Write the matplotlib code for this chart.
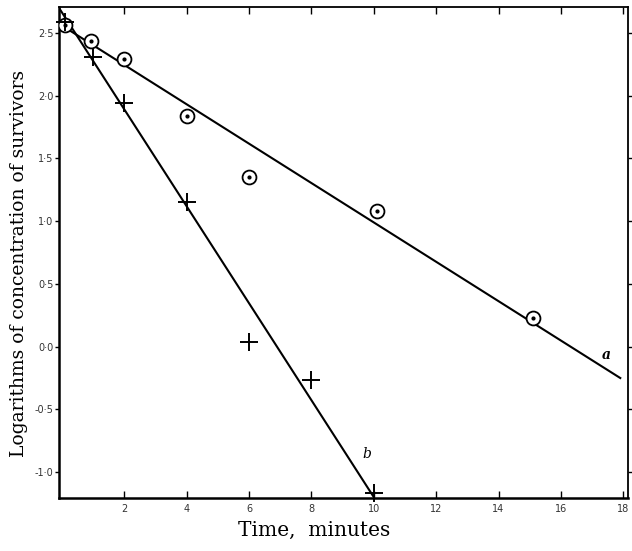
import matplotlib
matplotlib.use("Agg")
import matplotlib.pyplot as plt

# Survivor counts (log10 concentration) against exposure time
time_a = [0.1, 0.95, 2.0, 4.0, 6.0, 10.1, 15.1]
logc_a = [2.56, 2.44, 2.29, 1.84, 1.355, 1.08, 0.23]

time_b = [0.1, 1.0, 2.0, 4.0, 6.0, 8.0, 10.0]
logc_b = [2.59, 2.31, 1.94, 1.15, 0.04, -0.27, -1.17]

# Fitted straight lines
fit_a_x = [0.0, 17.93]
fit_a_y = [2.56, -0.255]
fit_b_x = [-0.09, 10.0]
fit_b_y = [2.70, -1.20]

x_ticks = [2, 4, 6, 8, 10, 12, 14, 16, 18]
x_tick_labels = ["2", "4", "6", "8", "10", "12", "14", "16", "18"]
y_ticks = [2.5, 2.0, 1.5, 1.0, 0.5, 0.0, -0.5, -1.0]
y_tick_labels = ["2·5", "2·0", "1·5", "1·0", "0·5", "0·0", "-0·5", "-1·0"]

fig = plt.figure(figsize=(6.32, 5.51), dpi=100)
ax = fig.add_axes([0.0934, 0.0962, 0.9003, 0.891])

ax.plot(fit_a_x, fit_a_y, color="black", lw=1.5, solid_capstyle="butt")
ax.plot(fit_b_x, fit_b_y, color="black", lw=1.5, solid_capstyle="butt")

# circles with a centre dot
ax.plot(time_a, logc_a, linestyle="none", marker="o", markersize=10,
        markerfacecolor="white", markeredgecolor="black", markeredgewidth=1.3,
        zorder=3)
ax.plot(time_a, logc_a, linestyle="none", marker="o", markersize=2,
        color="black", zorder=4)
# crosses
ax.plot(time_b, logc_b, linestyle="none", marker="+", markersize=13,
        markeredgewidth=1.4, color="black", zorder=4, clip_on=False)

ax.set_xlim(-0.09, 18.15)
ax.set_ylim(-1.207, 2.707)

ax.set_xticks(x_ticks)
ax.set_xticklabels(x_tick_labels)
ax.set_yticks(y_ticks)
ax.set_yticklabels(y_tick_labels)

ax.tick_params(axis="x", direction="in", length=5, width=1.0, top=True,
               labelsize=7, labelcolor="#333333", pad=4)
ax.tick_params(axis="y", direction="out", length=3, width=1.0, right=True,
               labelsize=7, labelcolor="#333333", pad=1)

for side in ["left", "bottom"]:
    ax.spines[side].set_linewidth(1.8)
for side in ["top", "right"]:
    ax.spines[side].set_linewidth(1.3)

ax.set_xlabel("Time,  minutes", family="DejaVu Serif", fontsize=14.5)
ax.set_ylabel("Logarithms of concentration of survivors", family="DejaVu Serif",
              fontsize=13.5)
ax.xaxis.set_label_coords(0.448, -0.047)
ax.yaxis.set_label_coords(-0.055, 0.478)

ax.text(17.45, -0.07, "a", family="DejaVu Serif", style="italic",
        weight="bold", fontsize=10, ha="center", va="center")
ax.text(9.78, -0.86, "b", family="DejaVu Serif", style="italic",
        fontsize=10, ha="center", va="center")

fig.savefig("out.png", dpi=100)
